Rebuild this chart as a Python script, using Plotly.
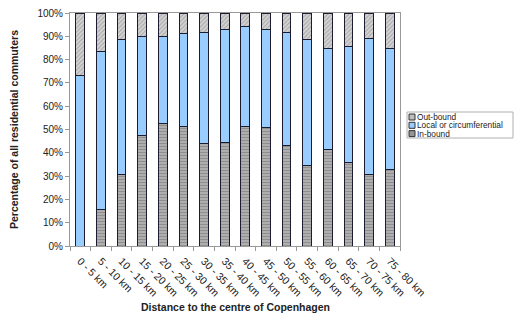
import plotly.graph_objects as go

categories = ["0 - 5 km", "5 - 10 km", "10 - 15 km", "15 - 20 km", "20 - 25 km",
              "25 - 30 km", "30 - 35 km", "35 - 40 km", "40 - 45 km", "45 - 50 km",
              "50 - 55 km", "55 - 60 km", "60 - 65 km", "65 - 70 km", "70 - 75 km",
              "75 - 80 km"]
in_bound = [0, 15.7, 30.6, 47.3, 52.5, 51.5, 44.0, 44.4, 51.3, 51.0, 43.2, 34.5, 41.3, 36.0, 30.5, 32.8]
local = [73.0, 67.9, 58.0, 42.8, 37.3, 39.6, 47.8, 48.6, 42.7, 42.0, 48.6, 54.1, 43.4, 49.7, 58.5, 51.9]
out_bound = [round(100 - a - b, 1) for a, b in zip(in_bound, local)]
y_ticks = [0, 10, 20, 30, 40, 50, 60, 70, 80, 90, 100]
legend_names = ["Out-bound", "Local or circumferential", "In-bound"]

FONT = "Liberation Sans, Arial, sans-serif"
outline = dict(color="#1c1c30", width=1)

fig = go.Figure()
fig.add_trace(go.Bar(x=categories, y=in_bound, name="In-bound",
                     marker=dict(color="#a8a8a8", line=outline,
                                 pattern=dict(shape="-", fgcolor="#6a6a6a", bgcolor="#b4b4b4",
                                              size=3, solidity=0.45))))
fig.add_trace(go.Bar(x=categories, y=local, name="Local or circumferential",
                     marker=dict(color="#99ccff", line=outline)))
fig.add_trace(go.Bar(x=categories, y=out_bound, name="Out-bound",
                     marker=dict(color="#c8c8c8", line=outline,
                                 pattern=dict(shape="/", fgcolor="#7a7a7a", bgcolor="#d4d4d4",
                                              size=3, solidity=0.35))))

L, R, T, B = 70, 400, 13, 246
W, H = 514, 318


def px(x):
    return (x - L) / (R - L)


def py(y):
    return (B - y) / (B - T)


# manual legend (small squares like the original)
shapes = [dict(type="rect", xref="paper", yref="paper",
               x0=px(407), x1=px(513), y0=py(138), y1=py(112),
               line=dict(color="#b0b0b0", width=1), fillcolor="white", layer="above")]
annotations = []
legend_colors = ["#bdbdbd", "#99ccff", "#959595"]
ys = [117, 125.3, 133.6]
for name, col, yy in zip(legend_names, legend_colors, ys):
    shapes.append(dict(type="rect", xref="paper", yref="paper",
                       x0=px(409), x1=px(415), y0=py(yy + 3), y1=py(yy - 3),
                       line=dict(color="#333333", width=1), fillcolor=col, layer="above"))
    annotations.append(dict(xref="paper", yref="paper", x=px(416), y=py(yy),
                            text=name, showarrow=False, xanchor="left", yanchor="middle",
                            borderpad=0,
                            font=dict(family=FONT, size=8.3, color="#222222")))

# axis titles as annotations for exact placement
annotations.append(dict(xref="paper", yref="paper", x=px(235), y=py(307),
                        text="<b>Distance to the centre of Copenhagen</b>", showarrow=False,
                        xanchor="center", yanchor="middle",
                        font=dict(family=FONT, size=10.5, color="#222222")))
annotations.append(dict(xref="paper", yref="paper", x=px(14), y=py(130),
                        text="<b>Percentage of all residential commuters</b>", showarrow=False,
                        xanchor="center", yanchor="middle", textangle=-90,
                        font=dict(family=FONT, size=10.5, color="#222222")))

fig.update_layout(
    barmode="stack",
    bargap=0.58,
    width=W, height=H,
    margin=dict(l=L, r=W - R, t=T, b=H - B, autoexpand=False),
    paper_bgcolor="white",
    plot_bgcolor="white",
    showlegend=False,
    font=dict(family=FONT, size=10, color="#222222"),
    shapes=shapes,
    annotations=annotations,
    xaxis=dict(
        tickangle=45,
        tickson="boundaries",
        ticks="outside", ticklen=4, tickcolor="#999999",
        showline=True, linecolor="#999999", linewidth=1, mirror=True,
        tickfont=dict(family=FONT, size=10.5, color="#222222"),
        ticklabelstandoff=4,
        showgrid=False, automargin=False,
    ),
    yaxis=dict(
        range=[0, 100],
        tickvals=y_ticks,
        ticktext=[f"{v}%" for v in y_ticks],
        ticks="outside", ticklen=4, tickcolor="#999999",
        showline=True, linecolor="#999999", linewidth=1, mirror=True,
        showgrid=False, zeroline=False, automargin=False,
        tickfont=dict(family=FONT, size=10, color="#222222"),
    ),
)

fig.write_html("out.html", config={"displayModeBar": False},
               post_script="document.body.style.margin='0';document.body.style.overflow='hidden';")
